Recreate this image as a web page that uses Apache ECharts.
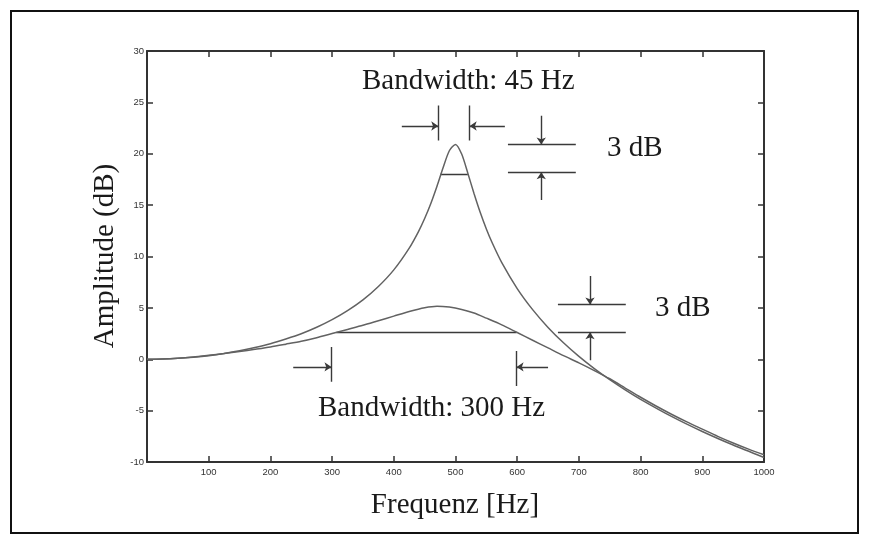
<!DOCTYPE html>
<html>
<head>
<meta charset="utf-8">
<script src="https://cdn.jsdelivr.net/npm/echarts@6/dist/echarts.min.js"></script>
<style>
html,body{margin:0;padding:0;background:#fff;}
#chart{width:869px;height:544px;}
</style>
</head>
<body>
<div id="chart"></div>
<script>
// ---- Data ----
const xTicks = [0, 100, 200, 300, 400, 500, 600, 700, 800, 900, 1000];
const yTicks = [-10, -5, 0, 5, 10, 15, 20, 25, 30];

// narrow resonance (bandwidth 45 Hz)
const narrowFreq = [0,25,50,75,100,125,150,175,200,225,250,275,300,325,350,375,400,425,440,450,460,470,480,490,500,510,520,530,540,550,560,575,600,625,650,675,700,725,750,775,800,850,900,950,1000];
const narrowAmp  = [0,0.02,0.09,0.2,0.35,0.56,0.82,1.14,1.51,1.97,2.48,3.11,3.85,4.73,5.78,7.08,8.7,10.82,12.43,13.7,15.16,16.84,18.66,20.29,20.91,19.97,18.11,16.13,14.3,12.68,11.26,9.4,6.88,4.83,3.1,1.6,0.28,-0.91,-1.99,-2.98,-3.9,-5.56,-7.03,-8.35,-9.56];

// broad resonance (bandwidth 300 Hz)
const broadFreq = [0,25,50,75,100,125,150,175,200,225,250,275,300,325,350,375,400,425,450,470,490,510,530,550,575,600,625,650,675,700,725,750,775,800,825,850,875,900,925,950,975,1000];
const broadAmp  = [0,0.03,0.1,0.22,0.38,0.55,0.75,0.97,1.2,1.47,1.75,2.1,2.5,2.9,3.3,3.75,4.2,4.65,5.02,5.17,5.08,4.85,4.5,4.0,3.35,2.6,1.85,1.1,0.35,-0.35,-1.1,-1.9,-2.8,-3.7,-4.55,-5.35,-6.1,-6.8,-7.5,-8.15,-8.75,-9.3];

// annotation segments in data coordinates [[f1,dB1],[f2,dB2]]
const plainSegments = [
  [[475,18.0],[520,18.0]],      // -3 dB line narrow
  [[307,2.6],[599,2.6]],        // -3 dB line broad
  [[472,24.7],[472,21.3]],      // bandwidth markers top
  [[523,24.7],[523,21.3]],
  [[585,20.9],[695,20.9]],      // 3 dB top
  [[585,18.2],[695,18.2]],
  [[666,5.34],[776,5.34]],      // 3 dB bottom
  [[666,2.62],[776,2.62]],
  [[299,1.2],[299,-2.2]],       // bandwidth markers bottom
  [[599,0.8],[599,-2.6]]
];
const arrowSegments = [
  [[413,22.7],[472,22.7]],
  [[580,22.7],[523,22.7]],
  [[639,23.7],[639,20.9]],
  [[639,15.5],[639,18.2]],
  [[718,8.1],[718,5.34]],
  [[718,-0.1],[718,2.62]],
  [[237,-0.75],[299,-0.75]],
  [[650,-0.75],[599,-0.75]]
];

const xTitle = 'Frequenz [Hz]';
const yTitle = 'Amplitude (dB)';
const labelNarrowBw = 'Bandwidth: 45 Hz';
const labelBroadBw = 'Bandwidth: 300 Hz';
const label3dB = '3 dB';

// ---- Chart ----
const chart = echarts.init(document.getElementById('chart'), null, {renderer:'canvas'});
const axisColor = '#333';
const curveColor = '#626262';
const serif = '"Liberation Serif","DejaVu Serif",serif';
const tickFont = {fontFamily:'"Liberation Sans",Arial,sans-serif', fontSize:9.5, color:'#333'};

function zip(a,b){ return a.map((v,i)=>[v,b[i]]); }

const commonX = {type:'value', min:0, max:1000, interval:100,
  axisLine:{show:true, onZero:false, lineStyle:{color:axisColor, width:2}},
  axisTick:{show:true, inside:true, length:6, lineStyle:{color:axisColor, width:1.5}},
  splitLine:{show:false}};
const commonY = {type:'value', min:-10, max:30, interval:5,
  axisLine:{show:true, onZero:false, lineStyle:{color:axisColor, width:2}},
  axisTick:{show:true, inside:true, length:6, lineStyle:{color:axisColor, width:1.5}},
  splitLine:{show:false}};

const option = {
  animation:false,
  backgroundColor:'#fff',
  grid:{left:147, right:105, top:51, bottom:82, containLabel:false},
  xAxis:[
    Object.assign({}, commonX, {position:'bottom',
      axisLabel:Object.assign({margin:5, formatter:v=> v===0 ? '' : String(v)}, tickFont)}),
    Object.assign({}, commonX, {position:'top', axisLabel:{show:false}})
  ],
  yAxis:[
    Object.assign({}, commonY, {position:'left',
      axisLabel:Object.assign({margin:3}, tickFont)}),
    Object.assign({}, commonY, {position:'right', axisLabel:{show:false}})
  ],
  series:[
    {type:'line', data:zip(narrowFreq, narrowAmp), showSymbol:false, smooth:0.25,
     lineStyle:{color:curveColor, width:1.5}, silent:true},
    {type:'line', data:zip(broadFreq, broadAmp), showSymbol:false, smooth:0.25,
     lineStyle:{color:curveColor, width:1.5}, silent:true},
    {type:'lines', coordinateSystem:'cartesian2d', silent:true,
     data:plainSegments.map(s=>({coords:s})),
     symbol:['none','none'],
     lineStyle:{color:'#3a3a3a', width:1.4, opacity:1}},
    {type:'lines', coordinateSystem:'cartesian2d', silent:true,
     data:arrowSegments.map(s=>({coords:s})),
     symbol:['none','arrow'], symbolSize:[5,7],
     lineStyle:{color:'#3a3a3a', width:1.4, opacity:1}}
  ],
  graphic:[
    {type:'rect', shape:{x:11, y:11, width:847, height:522}, style:{fill:'none', stroke:'#111', lineWidth:2}, silent:true},
    {type:'text', x:362, y:81, style:{text:labelNarrowBw, font:'29px '+serif, fill:'#1a1a1a', verticalAlign:'middle', align:'left'}},
    {type:'text', x:607, y:148, style:{text:label3dB, font:'29px '+serif, fill:'#1a1a1a', verticalAlign:'middle', align:'left'}},
    {type:'text', x:655, y:308, style:{text:label3dB, font:'29px '+serif, fill:'#1a1a1a', verticalAlign:'middle', align:'left'}},
    {type:'text', x:318, y:408, style:{text:labelBroadBw, font:'29px '+serif, fill:'#1a1a1a', verticalAlign:'middle', align:'left'}},
    {type:'text', x:455, y:505, style:{text:xTitle, font:'29px '+serif, fill:'#1a1a1a', verticalAlign:'middle', align:'center'}},
    {type:'text', x:105, y:256, rotation:Math.PI/2, style:{text:yTitle, font:'29px '+serif, fill:'#1a1a1a', verticalAlign:'middle', align:'center'}}
  ]
};
chart.setOption(option);
</script>
</body>
</html>
